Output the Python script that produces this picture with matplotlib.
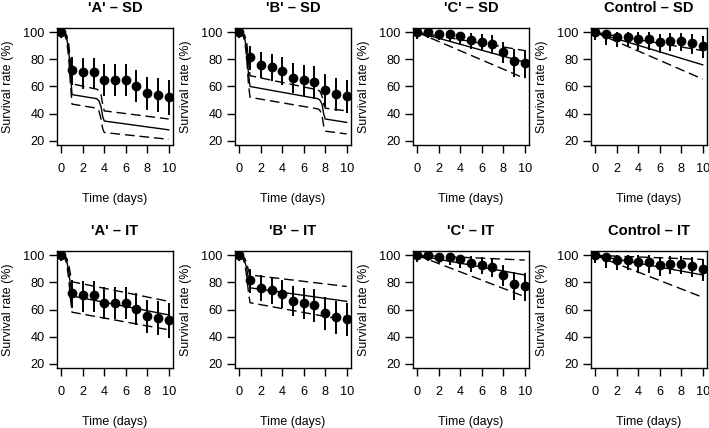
import numpy as np
import matplotlib
matplotlib.use("Agg")
import matplotlib.pyplot as plt

plt.rcParams['font.family'] = ['Liberation Sans', 'DejaVu Sans']

# observed survival (%) per day, with error bar limits
days = [0, 1, 2, 3, 4, 5, 6, 7, 8, 9, 10]

obs_A = [100, 72, 70.5, 70.5, 65, 65, 65, 60.5, 55, 53.5, 52]
lo_A = [96, 61, 58, 58, 53, 53, 53, 48.5, 42.5, 41, 39]
hi_A = [100, 82, 81, 81, 76.5, 76.5, 76.5, 72, 67, 66, 64.5]

obs_B = [100, 81.5, 76, 74.5, 71.5, 66, 64.5, 63, 57.5, 54.5, 53]
lo_B = [96, 72, 66, 64, 61, 55, 53, 51, 45, 42, 40.5]
hi_B = [100, 90, 85.5, 84, 82, 77, 76, 75, 69, 66.5, 65]

obs_C = [100, 100, 98.5, 98.5, 97, 94.5, 93, 91.5, 85.5, 78.5, 77]
lo_C = [95, 96, 94, 93, 91, 88, 86, 84, 77, 67, 66]
hi_C = [100, 100, 100, 100, 100, 99.5, 99, 98, 93, 88, 87]

obs_K = [100, 98.5, 96.5, 96.5, 95, 95, 93, 93.5, 93.5, 92, 90]
lo_K = [94, 91, 89, 89, 87, 87, 85, 86, 86, 84, 81]
hi_K = [100, 100, 100, 100, 100, 100, 99, 99.5, 99.5, 98.5, 97]

# model predictions (median, upper and lower bounds) read at knot times
t_A_sd = [0, 0.3, 0.5, 0.7, 0.85, 1.0, 3.3, 3.5, 3.7, 3.85, 4.0, 10]
mid_A_sd = [100, 99, 96, 86, 70, 54, 51, 49.5, 45, 38, 34.5, 28]
up_A_sd = [100, 99.5, 98, 91, 78, 62, 58, 57, 54, 47, 42, 36]
low_A_sd = [100, 98.5, 94, 80, 62, 47, 44, 42, 36, 29, 26, 21]

t_B_sd = [0, 0.3, 0.5, 0.7, 0.85, 1.0, 7.3, 7.5, 7.7, 7.85, 8.0, 10]
mid_B_sd = [100, 99, 96, 86, 70, 60, 51, 50, 47, 40, 36, 33.5]
up_B_sd = [100, 99.5, 98, 92, 80, 68, 57.5, 56.5, 53, 47, 44, 42]
low_B_sd = [100, 98.5, 94, 80, 62, 52, 43.5, 42.5, 39, 31, 27, 25]

t_lin = [0, 10]
mid_C_sd = [100, 78]
up_C_sd = [100, 86.5]
low_C_sd = [100, 66]

mid_K_sd = [100, 76]
up_K_sd = [100, 86.5]
low_K_sd = [100, 65.5]

t_it = [0, 0.3, 0.5, 0.7, 0.85, 1.0, 10]
mid_A_it = [100, 99, 96, 88, 78, 70, 56]
up_A_it = [100, 99.5, 98, 93, 86, 80.5, 66]
low_A_it = [100, 98.5, 94, 82, 68, 58, 45]

mid_B_it = [100, 99, 96, 90, 83, 76, 66]
up_B_it = [100, 99.5, 98, 94, 89, 85.5, 77]
low_B_it = [100, 98.5, 94, 84, 73, 65, 52]

mid_C_it = [100, 85.5]
up_C_it = [100, 96.5]
low_C_it = [100, 69.5]

mid_K_it = [100, 85.5]
up_K_it = [100, 97]
low_K_it = [100, 69]

titles_sd = ["'A' \u2013 SD", "'B' \u2013 SD", "'C' \u2013 SD", "Control \u2013 SD"]
titles_it = ["'A' \u2013 IT", "'B' \u2013 IT", "'C' \u2013 IT", "Control \u2013 IT"]


def draw_panel(ax, title, t, mid, up, low, obs, lo, hi):
    dash = (0, (7, 3.5))
    ax.plot(t, up, color='black', lw=1.0, linestyle=dash)
    ax.plot(t, low, color='black', lw=1.0, linestyle=dash)
    ax.plot(t, mid, color='black', lw=1.0)
    ax.vlines(days, lo, hi, color='black', lw=1.4)
    ax.plot(days, obs, 'o', color='black', ms=6)

    ax.set_xlim(-0.4, 10.4)
    ax.set_ylim(16.8, 103.2)
    ax.set_xticks([0, 2, 4, 6, 8, 10])
    ax.set_yticks([20, 40, 60, 80, 100])
    ax.tick_params(axis='both', direction='out', length=6, width=1,
                   labelsize=9.2, colors='black')
    ax.tick_params(axis='x', pad=7)
    ax.tick_params(axis='y', pad=3)
    for s in ax.spines.values():
        s.set_linewidth(1.0)
        s.set_color('black')

    ax.set_xlabel('Time (days)', fontsize=8.9, va='center')
    ax.xaxis.set_label_coords(0.5, -0.46)
    ax.set_ylabel('Survival rate (%)', fontsize=8.9, va='center')
    ax.yaxis.set_label_coords(-0.42, 0.5)
    ax.text(0.5, 1.167, title, transform=ax.transAxes, ha='center', va='center',
            fontsize=10.6, fontweight='bold')


def main():
    W, H = 709, 428
    fig = plt.figure(figsize=(W / 100, H / 100), dpi=100)

    # panel boxes in pixels (left, top), R-style 2x4 layout
    lefts = [57, 235, 413, 591]
    tops = [28, 251]
    pw, ph = 116, 117

    axes = [[None] * 4 for _ in range(2)]
    for r in range(2):
        for c in range(4):
            axes[r][c] = fig.add_axes([lefts[c] / W, 1 - (tops[r] + ph) / H,
                                       pw / W, ph / H])

    # top row: SD model
    draw_panel(axes[0][0], titles_sd[0], t_A_sd, mid_A_sd, up_A_sd, low_A_sd, obs_A, lo_A, hi_A)
    draw_panel(axes[0][1], titles_sd[1], t_B_sd, mid_B_sd, up_B_sd, low_B_sd, obs_B, lo_B, hi_B)
    draw_panel(axes[0][2], titles_sd[2], t_lin, mid_C_sd, up_C_sd, low_C_sd, obs_C, lo_C, hi_C)
    draw_panel(axes[0][3], titles_sd[3], t_lin, mid_K_sd, up_K_sd, low_K_sd, obs_K, lo_K, hi_K)

    # bottom row: IT model
    draw_panel(axes[1][0], titles_it[0], t_it, mid_A_it, up_A_it, low_A_it, obs_A, lo_A, hi_A)
    draw_panel(axes[1][1], titles_it[1], t_it, mid_B_it, up_B_it, low_B_it, obs_B, lo_B, hi_B)
    draw_panel(axes[1][2], titles_it[2], t_lin, mid_C_it, up_C_it, low_C_it, obs_C, lo_C, hi_C)
    draw_panel(axes[1][3], titles_it[3], t_lin, mid_K_it, up_K_it, low_K_it, obs_K, lo_K, hi_K)

    fig.savefig('out.png', dpi=100)


if __name__ == "__main__":
    main()
